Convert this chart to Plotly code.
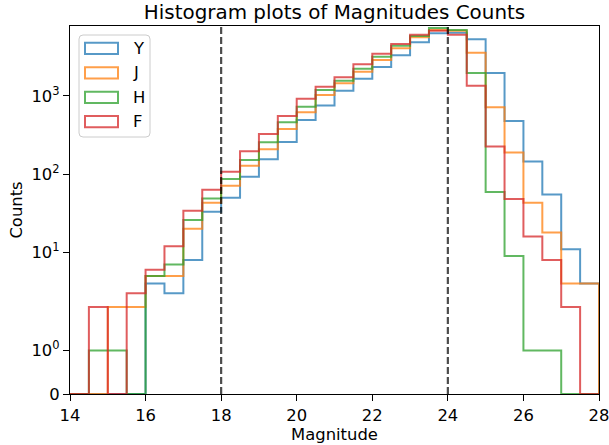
import numpy as np
import plotly.graph_objects as go

# ---------------- data ----------------
bin_edges = [14.0, 14.5, 15.0, 15.5, 16.0, 16.5, 17.0, 17.5, 18.0, 18.5, 19.0, 19.5,
             20.0, 20.5, 21.0, 21.5, 22.0, 22.5, 23.0, 23.5, 24.0, 24.5, 25.0, 25.5,
             26.0, 26.5, 27.0, 27.5, 28.0]
counts_Y = [0, 0, 0, 0, 4, 3, 8, 33, 50, 93, 155, 258, 493, 752, 1167, 1663, 2344, 3311,
            4853, 6324, 6428, 5297, 1963, 479, 145, 55, 11, 4]
counts_J = [0, 0, 2, 2, 5, 5, 20, 43, 71, 128, 208, 379, 620, 1028, 1452, 2041, 2878, 4064,
            5610, 6966, 6824, 3573, 716, 189, 43, 18, 4, 4]
counts_H = [0, 1, 1, 0, 5, 7, 26, 49, 87, 152, 256, 461, 730, 1192, 1567, 2229, 3177, 4386,
            5835, 7380, 6966, 1963, 59, 9, 1, 1, 0, 0]
counts_F = [0, 2, 0, 3, 6, 12, 34, 63, 107, 196, 327, 555, 923, 1315, 1734, 2541, 3468, 4614,
            6068, 6824, 6068, 1352, 225, 48, 16, 8, 2, 0]
series_names = ["Y", "J", "H", "F"]
series_counts = [counts_Y, counts_J, counts_H, counts_F]
series_colors = ["rgba(31,119,180,0.75)", "rgba(255,127,14,0.75)",
                 "rgba(44,160,44,0.75)", "rgba(214,39,40,0.75)"]
cut_lines = [18, 24]
y_tick_values = [0, 1, 10, 100, 1000]
y_tick_labels = ["0", "10<sup>0</sup>", "10<sup>1</sup>", "10<sup>2</sup>", "10<sup>3</sup>"]
x_tick_values = [14, 16, 18, 20, 22, 24, 26, 28]

# ---------------- symlog scale (linthresh=2, linscale=1) ----------------
LINTHRESH = 2.0
LINSCALE_ADJ = 1.0 / (1.0 - 1.0 / 10.0)


def symlog(v):
    v = np.asarray(v, dtype=float)
    out = np.empty_like(v)
    inside = v <= LINTHRESH
    out[inside] = v[inside] * LINSCALE_ADJ / LINTHRESH
    out[~inside] = LINSCALE_ADJ + np.log10(v[~inside] / LINTHRESH)
    return out


# ---------------- layout geometry (pixels) ----------------
W, H = 609, 445
ML, MR, MT, MB = 70, 10, 26, 51
PW, PH = W - ML - MR, H - MT - MB


def px(xp):
    return (xp - ML) / PW


def py(yp):
    return (H - MB - yp) / PH


fig = go.Figure()

for name, cnts, col in zip(series_names, series_counts, series_colors):
    xs = [bin_edges[0]] + list(bin_edges) + [bin_edges[-1]]
    ys = [0] + list(cnts) + [cnts[-1], 0]
    fig.add_trace(go.Scatter(
        x=xs, y=symlog(ys), mode="lines", name=name, showlegend=False,
        line=dict(color=col, width=2, shape="hv"), hoverinfo="skip"))

shapes = []
for xv in cut_lines:
    shapes.append(dict(type="line", xref="x", yref="paper", x0=xv, x1=xv, y0=0, y1=1,
                       line=dict(color="rgba(0,0,0,0.7)", width=2.2, dash="7px,3px"),
                       layer="above"))

# manual matplotlib-style legend
bx0, by0, bx1, by1, r = 79, 35, 150, 137, 4
path = (f"M {px(bx0 + r)} {py(by0)} L {px(bx1 - r)} {py(by0)} "
        f"Q {px(bx1)} {py(by0)} {px(bx1)} {py(by0 + r)} "
        f"L {px(bx1)} {py(by1 - r)} Q {px(bx1)} {py(by1)} {px(bx1 - r)} {py(by1)} "
        f"L {px(bx0 + r)} {py(by1)} Q {px(bx0)} {py(by1)} {px(bx0)} {py(by1 - r)} "
        f"L {px(bx0)} {py(by0 + r)} Q {px(bx0)} {py(by0)} {px(bx0 + r)} {py(by0)} Z")
shapes.append(dict(type="path", xref="paper", yref="paper", path=path,
                   fillcolor="rgba(255,255,255,0.8)", line=dict(color="#cccccc", width=1),
                   layer="above"))
annotations = []
centers = [48.3, 72.8, 97.3, 121.7]
for name, col, cy in zip(series_names, series_colors, centers):
    shapes.append(dict(type="rect", xref="paper", yref="paper",
                       x0=px(85), x1=px(118), y0=py(cy + 5.6), y1=py(cy - 5.6),
                       line=dict(color=col, width=2), fillcolor="rgba(0,0,0,0)",
                       layer="above"))
    annotations.append(dict(xref="paper", yref="paper", x=px(130.5), y=py(cy),
                            text=name, showarrow=False, xanchor="left", yanchor="middle",
                            font=dict(family="DejaVu Sans", size=16.4, color="black")))

fig.update_layout(
    width=W, height=H,
    margin=dict(l=ML, r=MR, t=MT, b=MB, pad=0, autoexpand=False),
    paper_bgcolor="white", plot_bgcolor="white",
    font=dict(family="DejaVu Sans", size=16.4, color="black"),
    title=dict(text="Histogram plots of Magnitudes Counts", x=px(334.5), xanchor="center",
               xref="paper", y=1 - 12 / H, yanchor="middle", yref="container",
               font=dict(family="DejaVu Sans", size=19.9, color="black")),
    shapes=shapes, annotations=annotations, showlegend=False,
    xaxis=dict(range=[14, 28], tickvals=x_tick_values, ticks="outside", ticklen=6,
               tickwidth=1.3, tickcolor="black", showline=True, linewidth=1.3,
               linecolor="black", mirror=True, showgrid=False, zeroline=False,
               automargin=False, ticklabeloverflow="allow",
               tickfont=dict(family="DejaVu Sans", size=16.4),
               title=dict(text="Magnitude", standoff=2,
                          font=dict(family="DejaVu Sans", size=16.4))),
    yaxis=dict(range=[0, float(symlog([7835])[0])], tickvals=list(symlog(y_tick_values)),
               ticktext=y_tick_labels, ticks="outside", ticklen=6, tickwidth=1.3,
               tickcolor="black", showline=True, linewidth=1.3, linecolor="black",
               mirror=True, showgrid=False, zeroline=False, automargin=False,
               ticklabeloverflow="allow",
               tickfont=dict(family="DejaVu Sans", size=16.4),
               title=dict(text="Counts", standoff=4,
                          font=dict(family="DejaVu Sans", size=16.4))),
)

fig.write_html("out.html")
